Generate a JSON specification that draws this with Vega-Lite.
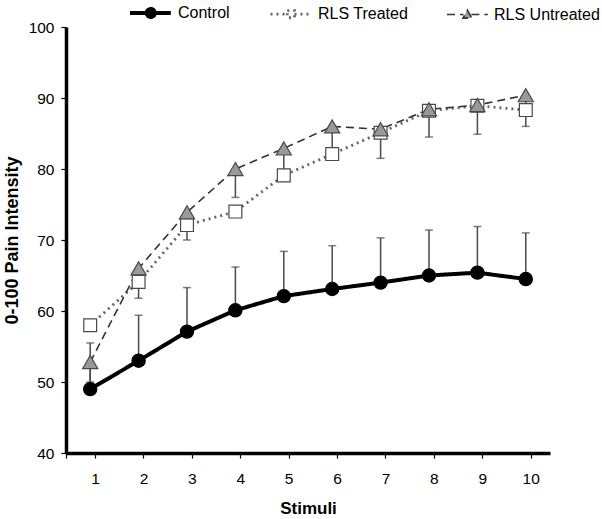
{
  "$schema": "https://vega.github.io/schema/vega-lite/v6.json",
  "width": 484,
  "height": 426,
  "autosize": {"type": "none"},
  "padding": {"left": 66, "top": 27, "right": 52, "bottom": 66},
  "background": "white",
  "config": {
    "view": {"stroke": null},
    "font": "Liberation Sans",
    "axis": {"grid": false, "domainColor": "black", "domainWidth": 3.5, "tickColor": "black", "tickWidth": 1.2, "tickSize": 5, "labelColor": "black", "labelFontSize": 15.5, "labelFont": "Liberation Sans", "titleFont": "Liberation Sans", "titleFontWeight": "bold", "titleFontSize": 17, "titleColor": "black"}
  },
  "data": {"values": [
    {"stimulus": 1, "group": "Control", "value": 49.0, "err": 55.5},
    {"stimulus": 2, "group": "Control", "value": 53.0, "err": 59.4},
    {"stimulus": 3, "group": "Control", "value": 57.1, "err": 63.3},
    {"stimulus": 4, "group": "Control", "value": 60.1, "err": 66.2},
    {"stimulus": 5, "group": "Control", "value": 62.1, "err": 68.4},
    {"stimulus": 6, "group": "Control", "value": 63.1, "err": 69.2},
    {"stimulus": 7, "group": "Control", "value": 64.0, "err": 70.3},
    {"stimulus": 8, "group": "Control", "value": 65.0, "err": 71.4},
    {"stimulus": 9, "group": "Control", "value": 65.4, "err": 71.9},
    {"stimulus": 10, "group": "Control", "value": 64.5, "err": 71.0},
    {"stimulus": 1, "group": "RLS Treated", "value": 58.0, "err": null},
    {"stimulus": 2, "group": "RLS Treated", "value": 64.1, "err": null},
    {"stimulus": 3, "group": "RLS Treated", "value": 72.1, "err": null},
    {"stimulus": 4, "group": "RLS Treated", "value": 74.0, "err": null},
    {"stimulus": 5, "group": "RLS Treated", "value": 79.1, "err": null},
    {"stimulus": 6, "group": "RLS Treated", "value": 82.1, "err": null},
    {"stimulus": 7, "group": "RLS Treated", "value": 85.1, "err": null},
    {"stimulus": 8, "group": "RLS Treated", "value": 88.2, "err": null},
    {"stimulus": 9, "group": "RLS Treated", "value": 88.9, "err": null},
    {"stimulus": 10, "group": "RLS Treated", "value": 88.3, "err": null},
    {"stimulus": 1, "group": "RLS Untreated", "value": 52.8, "err": 50.0},
    {"stimulus": 2, "group": "RLS Untreated", "value": 66.0, "err": 61.8},
    {"stimulus": 3, "group": "RLS Untreated", "value": 73.9, "err": 70.0},
    {"stimulus": 4, "group": "RLS Untreated", "value": 80.0, "err": 76.0},
    {"stimulus": 5, "group": "RLS Untreated", "value": 82.9, "err": 79.5},
    {"stimulus": 6, "group": "RLS Untreated", "value": 86.0, "err": 82.5},
    {"stimulus": 7, "group": "RLS Untreated", "value": 85.6, "err": 81.5},
    {"stimulus": 8, "group": "RLS Untreated", "value": 88.4, "err": 84.5},
    {"stimulus": 9, "group": "RLS Untreated", "value": 89.0, "err": 84.9},
    {"stimulus": 10, "group": "RLS Untreated", "value": 90.4, "err": 86.0}
  ]},
  "encoding": {
    "x": {"field": "stimulus", "type": "quantitative", "scale": {"domain": [0.5, 10.5], "nice": false, "zero": false},
      "axis": {"title": "Stimuli", "values": [0.5, 1.1, 2.1, 3.1, 4.1, 5.1, 6.1, 7.1, 8.1, 9.1, 10.1], "labelExpr": "datum.value < 1 ? '' : format(floor(datum.value), 'd')", "labelPadding": 13, "titlePadding": 14}},
    "y": {"field": "value", "type": "quantitative", "scale": {"domain": [40, 100], "nice": false, "zero": false},
      "axis": {"title": "0-100 Pain Intensity", "titleFontSize": 18, "values": [40, 50, 60, 70, 80, 90, 100], "labelPadding": 7, "titlePadding": 7}}
  },
  "layer": [
    {
      "transform": [{"filter": "datum.err != null"}],
      "mark": {"type": "rule", "color": "#4a4a4a", "strokeWidth": 1.5},
      "encoding": {"y2": {"field": "err"}}
    },
    {
      "transform": [{"filter": "datum.err != null"}],
      "mark": {"type": "tick", "orient": "horizontal", "color": "#4a4a4a", "thickness": 1.5, "size": 8},
      "encoding": {"y": {"field": "err", "type": "quantitative"}}
    },
    {
      "mark": {"type": "line"},
      "encoding": {
        "detail": {"field": "group"},
        "color": {"field": "group", "type": "nominal", "scale": {"domain": ["Control", "RLS Treated", "RLS Untreated"], "range": ["#000000", "#666666", "#333333"]}},
        "strokeWidth": {"field": "group", "type": "nominal", "scale": {"domain": ["Control", "RLS Treated", "RLS Untreated"], "range": [4, 1.6, 2]}},
        "strokeDash": {"field": "group", "type": "nominal", "scale": {"domain": ["Control", "RLS Treated", "RLS Untreated"], "range": [[1, 0], [2, 4], [8, 5]]},
          "legend": {
            "title": null, "orient": "none", "legendX": 62, "legendY": -24, "direction": "horizontal",
            "padding": 0, "columnPadding": 34, "labelFontSize": 16, "labelFont": "Liberation Sans", "labelColor": "black",
            "symbolSize": 256, "labelOffset": 30,
            "encode": {"symbols": {"update": {
              "shape": {"signal": "datum.value === 'Control' ? 'M-1,0H4.1M2.1,0A0.5,0.5 0 1,1 1.1,0A0.5,0.5 0 1,1 2.1,0Z' : datum.value === 'RLS Treated' ? 'M-1,0H1.1M2.0,0H4.1M1.1,-0.45H2.0V0.45H1.1Z' : 'M-1,0H1.05M2.05,0H4.1M1.55,-0.55L2.1,0.45H1.0Z'"},
              "fill": {"signal": "datum.value === 'Control' ? '#000000' : datum.value === 'RLS Treated' ? '#ffffff' : '#999999'"},
              "stroke": {"signal": "datum.value === 'Control' ? '#000000' : '#333333'"},
              "strokeWidth": {"signal": "datum.value === 'Control' ? 3.5 : 1.4"},
              "strokeDash": {"signal": "datum.value === 'Control' ? [1,0] : datum.value === 'RLS Treated' ? [2,3] : [6,4]"},
              "size": {"value": 256},
              "opacity": {"value": 1},
              "fillOpacity": {"value": 1},
              "strokeOpacity": {"value": 1}
            }}}
          }}
      }
    },
    {
      "transform": [{"filter": "datum.group === 'Control'"}],
      "mark": {"type": "point", "shape": "circle", "filled": true, "opacity": 1, "fill": "#000000", "stroke": "#000000", "strokeWidth": 1.2, "size": 175}
    },
    {
      "transform": [{"filter": "datum.group === 'RLS Treated'"}],
      "mark": {"type": "point", "shape": "square", "filled": true, "opacity": 1, "fill": "#ffffff", "stroke": "#4a4a4a", "strokeWidth": 1.2, "size": 165}
    },
    {
      "transform": [{"filter": "datum.group === 'RLS Untreated'"}],
      "mark": {"type": "point", "shape": "triangle-up", "filled": true, "opacity": 1, "fill": "#999999", "stroke": "#4a4a4a", "strokeWidth": 1.2, "size": 230}
    }
  ]
}
